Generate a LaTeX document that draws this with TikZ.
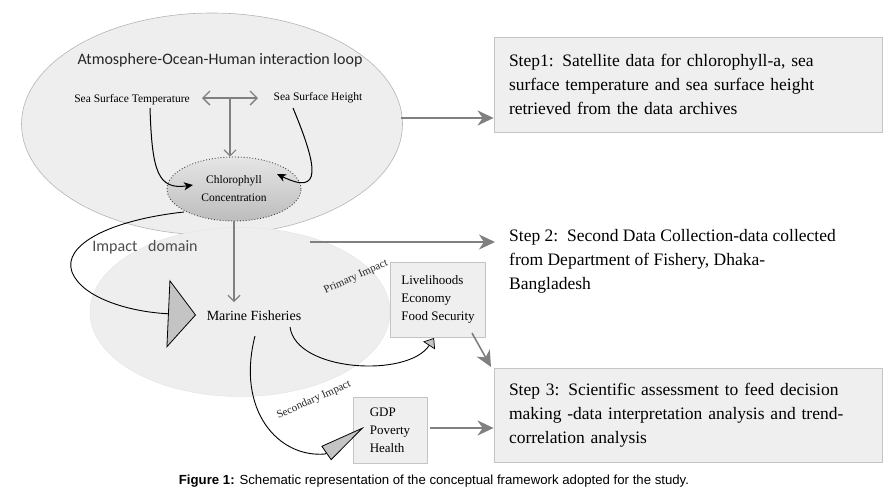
\documentclass[tikz,border=0pt]{standalone}
\usepackage{fontspec}
\setmainfont{Liberation Serif}
\newfontfamily\calibri{Carlito}
\newfontfamily\arial{Liberation Sans}
\usetikzlibrary{shapes.geometric,arrows.meta}
\definecolor{boxfill}{HTML}{EFEFEF}
\definecolor{boxline}{HTML}{C4C4C4}
\definecolor{arrgray}{HTML}{808080}
\definecolor{ellfill}{HTML}{EEEEEE}
\definecolor{ellline}{HTML}{B4B4B4}
\definecolor{trifill}{HTML}{C4C4C4}
\tikzset{
  txt/.style={inner sep=0pt, align=left},
  bigell/.style={ellipse, fill=ellfill, inner sep=0pt},
  stepbox/.style={draw=boxline, fill=boxfill, line width=0.8pt, minimum width=388pt, inner xsep=15pt, inner ysep=0pt, align=left, font=\fontsize{17.5}{24}\selectfont},
  smallbox/.style={draw=boxline, fill=boxfill, line width=0.6pt, inner xsep=11pt, inner ysep=0pt, align=left, font=\fontsize{13}{18}\selectfont},
  grayarrow/.style={draw=arrgray, line width=1.6pt, -{Stealth[length=16pt,width=15pt,inset=5pt]}},
  thinarrow/.style={draw=arrgray, line width=1.1pt, -{Straight Barb[length=6pt,width=12pt]}},
  blackcurve/.style={draw=black, line width=1pt, -{Stealth[length=9pt,width=8pt,inset=2.5pt]}},
}
\begin{document}
\begin{tikzpicture}[x=1pt,y=-1pt]
\useasboundingbox (0,0) rectangle (891,496);
% large ellipses
\node[bigell, draw=ellline, line width=0.6pt, minimum width=381pt, minimum height=222pt] (ellA) at (212,124) {};
\node[bigell, draw=black!10, line width=0.5pt, minimum width=300pt, minimum height=169pt] (ellB) at (240,312) {};
% title
\node[txt, font=\calibri\fontsize{16}{18}\selectfont, text=black!85] (title) at (220,60) {Atmosphere-Ocean-Human interaction loop};
% SST / SSH
\node[txt, font=\fontsize{11.5}{13}\selectfont] (sst) at (132,100) {Sea Surface Temperature};
\node[txt, font=\fontsize{11.5}{13}\selectfont] (ssh) at (318,98) {Sea Surface Height};
% chlorophyll
\node[ellipse, draw=black!75, dotted, line width=0.9pt, top color=black!10, bottom color=black!26, minimum width=134pt, minimum height=64pt, inner sep=0pt, align=center, font=\fontsize{11.5}{18}\selectfont] (chl) at (234,189) {Chlorophyll\\Concentration};
% double arrow and vertical
\coordinate (dl) at (202,98);
\coordinate (dr) at (258,98);
\coordinate (dm) at (230,98);
\draw[draw=arrgray, line width=1.4pt, {Straight Barb[length=7pt,width=14pt]}-{Straight Barb[length=7pt,width=14pt]}] (dl) -- (dr);
\draw[thinarrow] (dm) -- (dm |- chl.north);
% black curves
\coordinate (sstS) at (150,108);
\coordinate (sstE) at (193,185);
\draw[blackcurve] (sstS) .. controls (152,172) and (158,190) .. (sstE);
\coordinate (sshS) at (293,108);
\coordinate (sshE) at (277,174);
\draw[blackcurve] (sshS) .. controls (318,168) and (322,196) .. (sshE);
% marine fisheries
\node[txt, font=\fontsize{14}{16}\selectfont] (mf) at (254,316) {Marine Fisheries};
\draw[thinarrow] (chl.south) -- (chl.south |- 0,302);
% impact domain
\node[txt, font=\calibri\fontsize{16}{18}\selectfont, text=black!70] (impact) at (145,247) {Impact\ \ \ domain};
\coordinate (impS) at (184,212);
\coordinate (impT) at (196,315);
\draw[line width=0.9pt, -{Triangle[length=28pt,width=68pt,fill=trifill,color=black,line width=0.8pt]}] (impS) .. controls (110,220) and (62,245) .. (72,272) .. controls (82,298) and (130,312) .. (impT);
% primary impact
\node[txt, font=\fontsize{11}{13}\selectfont, text=black!85, rotate=24] (prim) at (356,277) {Primary Impact};
\node[smallbox, minimum width=90pt, minimum height=75pt] (live) at (438,299.5) {Livelihoods\\Economy\\Food Security};
\coordinate (primS) at (290,327);
\coordinate (primT) at (434,338);
\draw[line width=0.9pt, -{Triangle[length=9pt,width=14pt,fill=trifill,color=black,line width=0.7pt]}] (primS) .. controls (296,372) and (408,378) .. (primT);
% secondary impact
\node[txt, font=\fontsize{11}{13}\selectfont, text=black!85, rotate=24] (sec) at (314,400) {Secondary Impact};
\node[smallbox, minimum width=74pt, minimum height=66pt] (gdp) at (390,430) {GDP\\Poverty\\Health};
\coordinate (secS) at (255,336);
\coordinate (secM) at (325,454);
\coordinate (secT) at (364,427);
\draw[line width=0.9pt, -{Triangle[length=46pt,width=17pt,fill=trifill,color=black,line width=0.8pt]}] (secS) .. controls (236,410) and (278,458) .. (secM) -- (secT);
% steps
\node[stepbox, minimum height=95pt, text width=358pt] (step1) at (688,84.5) {Step1: Satellite data for chlorophyll-a, sea\\surface temperature and sea surface height\\retrieved from the data archives};
\node[txt, anchor=north west, font=\fontsize{17.5}{24}\selectfont] (step2) at (509,229) {Step 2:\ \ Second Data Collection-data collected\\from Department of Fishery, Dhaka-\\Bangladesh};
\node[stepbox, minimum height=94pt, text width=358pt] (step3) at (688,415) {Step 3: Scientific assessment to feed decision\\making -data interpretation analysis and trend-\\correlation analysis};
% gray arrows to steps
\coordinate (a1) at (401,118);
\draw[grayarrow] (a1) -- (a1 -| step1.west);
\coordinate (a2) at (310,242);
\coordinate (a2e) at (495,242);
\draw[grayarrow] (a2) -- (a2e);
\coordinate (a3) at (472,333);
\coordinate (a3e) at (491,367);
\draw[grayarrow] (a3) -- (a3e);
\coordinate (a4) at (430,428);
\draw[grayarrow] (a4) -- (a4 -| step3.west);
% caption
\node[inner sep=0pt, font=\arial\fontsize{13.2}{15}\selectfont] (cap) at (434,481) {\textbf{Figure 1:} Schematic representation of the conceptual framework adopted for the study.};
\end{tikzpicture}
\end{document}
